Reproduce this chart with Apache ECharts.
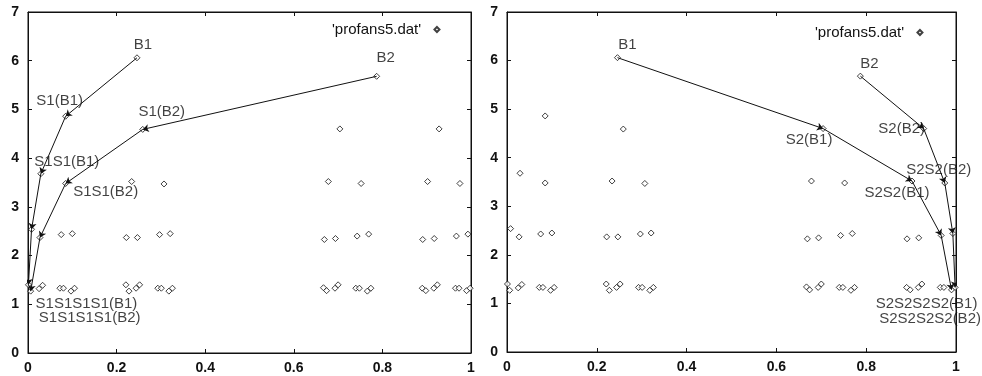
<!DOCTYPE html>
<html><head><meta charset="utf-8">
<script src="https://cdn.jsdelivr.net/npm/echarts@6/dist/echarts.min.js"></script>
<style>html,body{margin:0;padding:0;background:#fff}#c{width:982px;height:376px}</style>
</head><body><div id="c"></div>
<script>
// ---- data ----
const xTickLabels = ['0', '0.2', '0.4', '0.6', '0.8', '1'];
const yTickLabels = ['0', '1', '2', '3', '4', '5', '6', '7'];
const seriesName = "'profans5.dat'";

// profans5.dat points
const datX = [
  0.001, 0.006, 0.025, 0.033, 0.072, 0.080, 0.097, 0.105,
  0.221, 0.228, 0.244, 0.252, 0.293, 0.301, 0.318, 0.326,
  0.667, 0.674, 0.693, 0.700, 0.740, 0.748, 0.766, 0.774,
  0.890, 0.898, 0.916, 0.924, 0.965, 0.973, 0.990, 0.998,
  0.008, 0.027, 0.075, 0.100, 0.222, 0.247, 0.297, 0.321,
  0.669, 0.694, 0.743, 0.769, 0.891, 0.917, 0.967, 0.993,
  0.029, 0.085, 0.234, 0.307, 0.678, 0.752, 0.902, 0.975,
  0.085, 0.259, 0.704, 0.928,
  0.246, 0.787
];
const datY = [
  1.40, 1.27, 1.32, 1.39, 1.33, 1.33, 1.27, 1.33,
  1.40, 1.27, 1.33, 1.40, 1.33, 1.33, 1.27, 1.33,
  1.34, 1.28, 1.33, 1.40, 1.33, 1.33, 1.27, 1.33,
  1.33, 1.28, 1.33, 1.40, 1.33, 1.33, 1.28, 1.33,
  2.54, 2.37, 2.43, 2.45, 2.37, 2.37, 2.43, 2.45,
  2.33, 2.35, 2.40, 2.44, 2.33, 2.35, 2.40, 2.44,
  3.68, 3.48, 3.52, 3.47, 3.52, 3.48, 3.52, 3.48,
  4.86, 4.59, 4.60, 4.60,
  6.06, 5.68
];

// paths (left panel: S1 steps, right panel: S2 steps)
const leftB1X = [0.246, 0.085, 0.029, 0.008, 0.001];
const leftB1Y = [6.06, 4.86, 3.68, 2.54, 1.40];
const leftB2X = [0.787, 0.259, 0.085, 0.027, 0.006];
const leftB2Y = [5.68, 4.59, 3.48, 2.37, 1.27];
const rightB1X = [0.246, 0.704, 0.902, 0.967, 0.990];
const rightB1Y = [6.06, 4.60, 3.52, 2.40, 1.28];
const rightB2X = [0.787, 0.928, 0.975, 0.993, 0.998];
const rightB2Y = [5.68, 4.60, 3.48, 2.44, 1.33];

const leftLabels = ['B1', 'S1(B1)', 'S1S1(B1)', 'S1S1S1S1(B1)', 'B2', 'S1(B2)', 'S1S1(B2)', 'S1S1S1S1(B2)'];
const rightLabels = ['B1', 'S2(B1)', 'S2S2(B1)', 'S2S2S2S2(B1)', 'B2', 'S2(B2)', 'S2S2(B2)', 'S2S2S2S2(B2)'];
const labelStepIdx = [0, 1, 2, 4]; // which path points carry a label

// ---- styling (pixel offsets of labels from their anchor) ----
const leftOff = [[6, -13], [-6, -15], [26, -12], [58, 19], [9, -18], [19, -18], [40, 8], [59, 27]];
const rightOff = [[10, -13], [-14, 11], [-15, 12], [-25, 14], [9, -12], [-22, 0], [-6, -13], [-25, 31]];

const FONT = '"Liberation Sans", Arial, Helvetica, sans-serif';
const INK = '#111';

const chart = echarts.init(document.getElementById('c'), null, { renderer: 'canvas' });

const grids = [
  { left: 28, right: 511, top: 12, bottom: 23 },
  { left: 507, right: 26, top: 12, bottom: 24 }
];

function zip(xs, ys) { return xs.map((x, i) => [x, ys[i]]); }
function segs(xs, ys) {
  const out = [];
  for (let i = 0; i < xs.length - 1; i++) out.push({ coords: [[xs[i], ys[i]], [xs[i + 1], ys[i + 1]]] });
  return out;
}

const xAxes = [], yAxes = [], series = [];
const panels = [
  { b1x: leftB1X, b1y: leftB1Y, b2x: leftB2X, b2y: leftB2Y, labels: leftLabels, off: leftOff },
  { b1x: rightB1X, b1y: rightB1Y, b2x: rightB2X, b2y: rightB2Y, labels: rightLabels, off: rightOff }
];

panels.forEach((p, g) => {
  const tick = { show: true, inside: true, length: 4, lineStyle: { color: INK, width: 1 } };
  const line = { show: true, onZero: false, lineStyle: { color: INK, width: 1 } };
  xAxes.push({
    gridIndex: g, type: 'value', min: 0, max: 1, interval: 0.2, position: 'bottom',
    axisLine: line, axisTick: tick, splitLine: { show: false },
    axisLabel: { show: true, margin: 8, color: INK, fontFamily: FONT, fontSize: 14, fontWeight: 'bold',
      formatter: (v, i) => xTickLabels[i] !== undefined ? xTickLabels[i] : String(v) }
  });
  xAxes.push({
    gridIndex: g, type: 'value', min: 0, max: 1, interval: 0.2, position: 'top',
    axisLine: line, axisTick: tick, splitLine: { show: false }, axisLabel: { show: false }
  });
  yAxes.push({
    gridIndex: g, type: 'value', min: 0, max: 7, interval: 1, position: 'left',
    axisLine: line, axisTick: tick, splitLine: { show: false },
    axisLabel: { show: true, margin: 9, color: INK, fontFamily: FONT, fontSize: 14, fontWeight: 'bold',
      formatter: (v, i) => yTickLabels[i] !== undefined ? yTickLabels[i] : String(v) }
  });
  yAxes.push({
    gridIndex: g, type: 'value', min: 0, max: 7, interval: 1, position: 'right',
    axisLine: line, axisTick: tick, splitLine: { show: false }, axisLabel: { show: false }
  });
  const xi = g * 2, yi = g * 2;

  series.push({
    name: seriesName, type: 'scatter', xAxisIndex: xi, yAxisIndex: yi,
    data: zip(datX, datY), symbol: 'diamond', symbolSize: 6,
    itemStyle: { color: '#fff', borderColor: INK, borderWidth: 1 },
    emphasis: { disabled: true }, z: 3
  });

  series.push({
    type: 'lines', coordinateSystem: 'cartesian2d', xAxisIndex: xi, yAxisIndex: yi,
    data: segs(p.b1x, p.b1y).concat(segs(p.b2x, p.b2y)),
    symbol: ['none', 'arrow'], symbolSize: 6,
    lineStyle: { color: INK, width: 1, opacity: 1 }, z: 4, silent: true
  });

  const anchors = [];
  labelStepIdx.forEach(k => anchors.push([p.b1x[k], p.b1y[k]]));
  labelStepIdx.forEach(k => anchors.push([p.b2x[k], p.b2y[k]]));
  series.push({
    type: 'scatter', xAxisIndex: xi, yAxisIndex: yi, symbolSize: 0, silent: true, z: 5,
    clip: false,
    data: anchors.map((a, i) => ({
      value: a,
      label: {
        show: true, formatter: p.labels[i], position: 'inside', offset: p.off[i],
        align: 'center', verticalAlign: 'middle',
        color: INK, fontFamily: FONT, fontSize: 15
      }
    }))
  });
});

const legendBase = {
  data: [seriesName], align: 'right', orient: 'horizontal', padding: 0,
  itemWidth: 5, itemHeight: 5, selectedMode: false,
  textStyle: { color: INK, fontFamily: FONT, fontSize: 15 },
  formatter: n => n + '  '
};

chart.setOption({
  animation: false,
  backgroundColor: '#fff',
  grid: grids.map(g => Object.assign({ show: true, borderColor: INK, borderWidth: 1, containLabel: false }, g)),
  xAxis: xAxes,
  yAxis: yAxes,
  legend: [
    Object.assign({ left: 332, top: 22 }, legendBase),
    Object.assign({ left: 815, top: 25 }, legendBase)
  ],
  series: series
});
</script>
</body></html>
